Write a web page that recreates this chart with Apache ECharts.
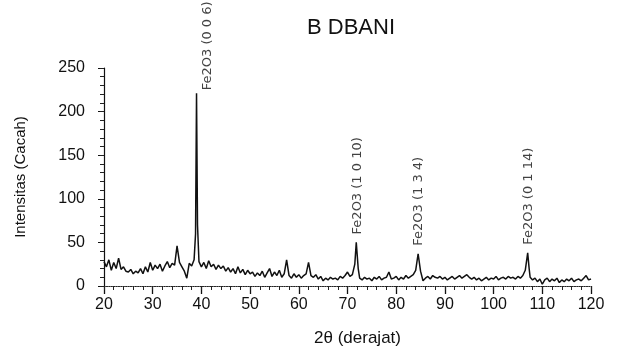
<!DOCTYPE html>
<html>
<head>
<meta charset="utf-8">
<script src="https://cdn.jsdelivr.net/npm/echarts@6/dist/echarts.min.js"></script>
<style>
  html, body { margin: 0; padding: 0; background: #fff; }
  #chart { width: 617px; height: 353px; }
</style>
</head>
<body>
<div id="chart"></div>
<script>
// 2θ positions (degrees) and counts
const twoTheta = [
  20, 20.5, 21, 21.5, 22, 22.5, 23, 23.5, 24, 24.5, 25, 25.5, 26, 26.5, 27, 27.5, 28, 28.5, 29, 29.5,
  30, 30.5, 31, 31.5, 32, 32.5, 33, 33.5, 34, 34.5, 35, 35.5, 36, 36.5, 37, 37.5, 38, 38.5,
  38.8, 39, 39.2, 39.5,
  40, 40.5, 41, 41.5, 42, 42.5, 43, 43.5, 44, 44.5, 45, 45.5, 46, 46.5, 47, 47.5, 48, 48.5, 49, 49.5,
  50, 50.5, 51, 51.5, 52, 52.5, 53, 53.5, 54, 54.5, 55, 55.5, 56, 56.5, 57, 57.5, 58, 58.5, 59, 59.5,
  60, 60.5, 61, 61.5, 62, 62.5, 63, 63.5, 64, 64.5, 65, 65.5, 66, 66.5, 67, 67.5, 68, 68.5, 69, 69.5,
  70, 70.5, 71, 71.5, 71.8, 72.2, 72.5, 73, 73.5, 74, 74.5, 75, 75.5, 76, 76.5, 77, 77.5, 78, 78.5, 79, 79.5,
  80, 80.5, 81, 81.5, 82, 82.5, 83, 83.5, 84, 84.5, 85, 85.5, 86, 86.5, 87, 87.5, 88, 88.5, 89, 89.5,
  90, 90.5, 91, 91.5, 92, 92.5, 93, 93.5, 94, 94.5, 95, 95.5, 96, 96.5, 97, 97.5, 98, 98.5, 99, 99.5,
  100, 100.5, 101, 101.5, 102, 102.5, 103, 103.5, 104, 104.5, 105, 105.5, 106, 106.5, 107, 107.3, 107.5,
  108, 108.5, 109, 109.5, 110, 110.5, 111, 111.5, 112, 112.5, 113, 113.5, 114, 114.5, 115, 115.5,
  116, 116.5, 117, 117.5, 118, 118.5, 119, 119.5, 120
];
const counts = [
  28, 22, 30, 18, 27, 20, 32, 19, 22, 17, 16, 19, 14, 17, 15, 20, 14, 22, 16, 27,
  18, 24, 20, 25, 17, 23, 28, 21, 26, 24, 46, 27, 22, 17, 9, 26, 23, 30,
  60, 221, 70, 28,
  22, 27, 20, 29, 22, 25, 19, 24, 20, 23, 17, 21, 16, 20, 14, 22, 15, 19, 13, 18,
  14, 16, 11, 15, 12, 17, 10, 15, 20, 11, 16, 12, 18, 10, 14, 30, 12, 9, 14, 10,
  13, 9, 12, 14, 27, 12, 10, 13, 8, 11, 6, 9, 7, 10, 8, 9, 7, 11, 9, 12,
  16, 11, 13, 25, 50, 20, 9, 7, 10, 8, 9, 6, 10, 8, 11, 7, 9, 10, 16, 8, 9,
  11, 7, 10, 8, 12, 9, 11, 13, 18, 37, 17, 6, 9, 11, 8, 12, 10, 9, 11, 8,
  10, 7, 9, 11, 8, 10, 12, 9, 11, 13, 10, 8, 10, 7, 9, 6, 8, 10, 7, 9,
  8, 11, 7, 9, 10, 8, 11, 9, 10, 8, 11, 9, 12, 18, 38, 20, 10,
  7, 9, 5, 8, 2, 7, 9, 5, 8, 6, 9, 4, 7, 5, 8, 6,
  9, 5, 7, 8, 6, 9, 12, 7, 8
];

// indexed reflections
const peakPos = [39.0, 71.8, 84.5, 107.0];
const peakTop = [221, 50, 37, 38];
const peakNames = ["Fe2O3 (0 0 6)", "Fe2O3 (1 0 10)", "Fe2O3 (1 3 4)", "Fe2O3 (0 1 14)"];

const xTicks = { min: 20, max: 120, interval: 10, minor: 2 };
const yTicks = { min: 0, max: 250, interval: 50, minor: 10 };

const labelShift = [[11, -3], [1, -8], [1, -8], [1, -8]];

const chart = echarts.init(document.getElementById("chart"), null, { renderer: "canvas" });

const axisFont = {
  color: "#111",
  fontFamily: "Liberation Sans, Arial, sans-serif",
  fontSize: 16,
};

// a second, label-less axis on each side carries the small ticks
const minorAxis = (t) => ({
  type: "value",
  min: t.min,
  max: t.max,
  interval: t.minor,
  axisLine: { show: false },
  axisTick: { show: true, length: 4, lineStyle: { color: "#222" } },
  axisLabel: { show: false },
  splitLine: { show: false },
});

chart.setOption({
  animation: false,
  backgroundColor: "#fff",
  title: {
    text: "B DBANI",
    left: 302,
    top: 12,
    textStyle: {
      color: "#111",
      fontFamily: "Liberation Sans, Arial, sans-serif",
      fontSize: 22,
      fontWeight: "normal",
    },
  },
  grid: { left: 104, right: 26, top: 68, bottom: 67, containLabel: false },
  xAxis: [
    {
      type: "value",
      min: xTicks.min,
      max: xTicks.max,
      interval: xTicks.interval,
      name: "2θ (derajat)",
      nameLocation: "middle",
      nameGap: 44,
      nameTextStyle: { ...axisFont, fontSize: 17, padding: [0, 0, 0, 20] },
      axisLine: { onZero: false, lineStyle: { color: "#222", type: "dotted", width: 1.2 } },
      axisTick: { show: true, length: 8, lineStyle: { color: "#111", width: 1.3 } },
      axisLabel: { ...axisFont, margin: 11 },
      splitLine: { show: false },
    },
    { ...minorAxis(xTicks), position: "bottom", offset: 0 },
  ],
  yAxis: [
    {
      type: "value",
      min: yTicks.min,
      max: yTicks.max,
      interval: yTicks.interval,
      name: "Intensitas (Cacah)",
      nameLocation: "middle",
      nameGap: 76,
      nameTextStyle: { ...axisFont, fontSize: 15 },
      axisLine: { show: true, lineStyle: { color: "#111", width: 1.2 } },
      axisTick: { show: true, length: 6, lineStyle: { color: "#111" } },
      axisLabel: { ...axisFont, margin: 19 },
      splitLine: { show: false },
    },
    { ...minorAxis(yTicks), position: "left", offset: 0 },
  ],
  series: [
    {
      type: "line",
      data: twoTheta.map((t, i) => [t, counts[i]]),
      showSymbol: false,
      smooth: false,
      lineStyle: { color: "#111", width: 1.5 },
      z: 3,
    },
    {
      type: "scatter",
      data: peakPos.map((t, i) => ({
        value: [t, peakTop[i]],
        label: { position: labelShift[i] },
      })),
      symbolSize: 0,
      silent: true,
      label: {
        show: true,
        rotate: 90,
        align: "left",
        verticalAlign: "middle",
        formatter: (p) => peakNames[p.dataIndex],
        color: "#111",
        fontFamily: "DejaVu Sans, Verdana, sans-serif",
        fontSize: 13,
      },
      z: 4,
    },
  ],
});
</script>
</body>
</html>
